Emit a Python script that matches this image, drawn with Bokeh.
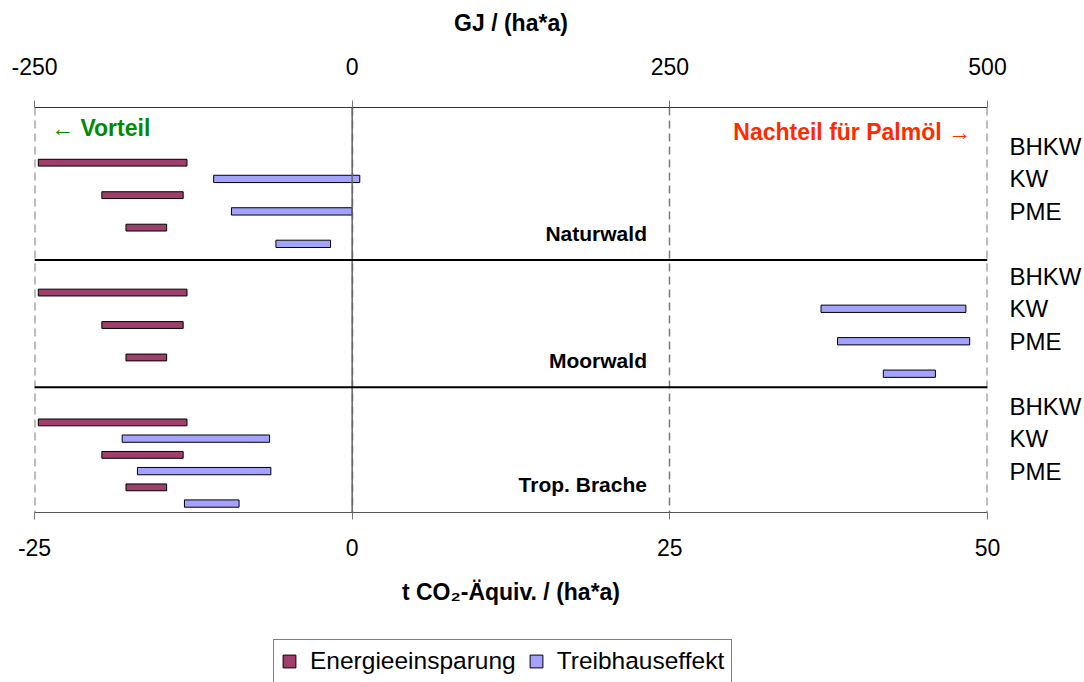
from bokeh.plotting import figure
from bokeh.models import (Range1d, LinearAxis, FixedTicker, Span, Legend,
                          LegendItem, ColumnDataSource, CustomJSTickFormatter)
from bokeh.layouts import column
from bokeh.core.properties import value
from bokeh.embed import file_html
from bokeh.resources import INLINE

# ---------------- data ----------------
panels = ["Naturwald", "Moorwald", "Trop. Brache"]
techs = ["BHKW", "KW", "PME"]

# Energieeinsparung (t CO2-Äquiv./(ha*a)) : von / bis, per panel, per tech
energie_von = [[-24.7, -19.7, -17.8],
               [-24.7, -19.7, -17.8],
               [-24.7, -19.7, -17.8]]
energie_bis = [[-13.0, -13.3, -14.6],
               [-13.0, -13.3, -14.6],
               [-13.0, -13.3, -14.6]]

# Treibhauseffekt
treib_von = [[-10.9, -9.5, -6.0],
             [36.9, 38.2, 41.8],
             [-18.1, -16.9, -13.2]]
treib_bis = [[0.6, 0.0, -1.7],
             [48.3, 48.6, 45.9],
             [-6.5, -6.4, -8.9]]

x_ticks = [-25, 0, 25, 50]
gj_ticks = [-250, 0, 250, 500]

FONT = "Liberation Sans"
C_EN = "#9E3F6C"
C_TR = "#A3A3FF"

# ---------------- layout of rows ----------------
SLOTS = 8
NAME_OFFSET = [4.35, 4.2, 3.8]
SEP_OFFSET = [0, -2.0, -2.17]
e_y, e_l, e_r, t_y, t_l, t_r = [], [], [], [], [], []
lab_pos, lab_txt = [], []
for k in range(len(panels)):
    for i in range(len(techs)):
        base = SLOTS * k + 2 * i
        e_y.append(base); e_l.append(energie_von[k][i]); e_r.append(energie_bis[k][i])
        t_y.append(base + 1); t_l.append(treib_von[k][i]); t_r.append(treib_bis[k][i])
        lab_pos.append(base - 1); lab_txt.append(techs[i])

p = figure(width=1084, height=638,
           x_range=Range1d(-25, 50), y_range=Range1d(21.55, -3.4),
           y_axis_location=None, toolbar_location=None, output_backend="svg",
           min_border_left=34, min_border_right=96, min_border_top=107,
           min_border_bottom=126)
p.outline_line_color = None
p.ygrid.visible = False
p.xgrid.ticker = FixedTicker(ticks=x_ticks)
p.xgrid.grid_line_color = "#7a7a7a"
p.xgrid.grid_line_dash = "8 5"
p.xgrid.grid_line_width = 1.5

for xe in (x_ticks[0], x_ticks[-1]):
    p.add_layout(Span(location=xe, dimension="height", line_color="#7a7a7a",
                      line_width=2, line_dash="8 5"))
p.add_layout(Span(location=0, dimension="height", line_color="#666666", line_width=1.5))
for k in range(1, len(panels)):
    p.add_layout(Span(location=SLOTS * k + SEP_OFFSET[k], dimension="width",
                      line_color="black", line_width=2))

src_e = ColumnDataSource(dict(y=e_y, left=e_l, right=e_r))
src_t = ColumnDataSource(dict(y=t_y, left=t_l, right=t_r))
p.hbar(y="y", left="left", right="right", height=0.42, source=src_e,
       fill_color=C_EN, line_color="black", line_width=1)
p.hbar(y="y", left="left", right="right", height=0.45, source=src_t,
       fill_color=C_TR, line_color="black", line_width=1)

# bottom axis
ax = p.xaxis[0]
ax.ticker = FixedTicker(ticks=x_ticks)
ax.formatter = CustomJSTickFormatter(code="return String(tick);")
ax.axis_label = "t CO\u2082-Äquiv. / (ha*a)"
ax.axis_line_color = "#555555"
ax.major_tick_line_color = "#777777"
ax.major_tick_out = 7
ax.major_tick_in = 0
ax.minor_tick_line_color = None
ax.major_label_text_font = FONT
ax.major_label_text_font_size = "23px"
ax.major_label_text_color = "black"
ax.major_label_standoff = 19
ax.axis_label_text_font = FONT
ax.axis_label_text_font_size = "23px"
ax.axis_label_text_font_style = "bold"
ax.axis_label_text_color = "black"
ax.axis_label_standoff = 20

# top axis
p.extra_x_ranges = {"gj": Range1d(-250, 500)}
tax = LinearAxis(x_range_name="gj", ticker=FixedTicker(ticks=gj_ticks),
                 formatter=CustomJSTickFormatter(code="return String(tick);"),
                 axis_label="GJ / (ha*a)")
tax.axis_line_color = "#333333"
tax.major_tick_line_color = "#777777"
tax.major_tick_out = 7
tax.major_tick_in = 0
tax.minor_tick_line_color = None
tax.major_label_text_font = FONT
tax.major_label_text_font_size = "23px"
tax.major_label_text_color = "black"
tax.major_label_standoff = 26
tax.axis_label_text_font = FONT
tax.axis_label_text_font_size = "23px"
tax.axis_label_text_font_style = "bold"
tax.axis_label_text_color = "black"
tax.axis_label_standoff = 19
p.add_layout(tax, "above")

# right labels
rax = LinearAxis(ticker=FixedTicker(ticks=lab_pos),
                 major_label_overrides={pos: t for pos, t in zip(lab_pos, lab_txt)})
rax.axis_line_color = None
rax.major_tick_line_color = None
rax.major_tick_out = 0
rax.major_tick_in = 0
rax.minor_tick_line_color = None
rax.major_label_standoff = 22
rax.major_label_text_font = FONT
rax.major_label_text_font_size = "24px"
rax.major_label_text_color = "black"
p.add_layout(rax, "right")

# panel names
p.text(x=[23.2] * len(panels), y=[SLOTS * k + NAME_OFFSET[k] for k in range(len(panels))],
       text=panels, text_align="right", text_baseline="middle",
       text_font=value(FONT), text_font_size="21px", text_font_style="bold",
       text_color="black")

# annotations
p.text(x=[-23.7], y=[-2.15], text=["\u2190 Vorteil"], text_align="left",
       text_baseline="middle", text_font=value(FONT), text_font_size="23px",
       text_font_style="bold", text_color="#008A00")
p.text(x=[48.7], y=[-1.9], text=["Nachteil für Palmöl \u2192"], text_align="right",
       text_baseline="middle", text_font=value(FONT), text_font_size="23px",
       text_font_style="bold", text_color="#FF2A00")

# ---------------- legend strip ----------------
lf = figure(width=1084, height=44, x_range=Range1d(1000, 1001), y_range=Range1d(1000, 1001),
            x_axis_location=None, y_axis_location=None, toolbar_location=None,
            output_backend="svg", min_border_left=34, min_border_right=96,
            min_border_top=0, min_border_bottom=0)
lf.outline_line_color = None
lf.grid.visible = False
# same series drawn into the legend strip (outside its visible range) to feed the legend
le = lf.hbar(y="y", left="left", right="right", height=0.42, source=src_e,
             fill_color=C_EN, line_color="black", line_width=1)
lt = lf.hbar(y="y", left="left", right="right", height=0.45, source=src_t,
             fill_color=C_TR, line_color="black", line_width=1)
legend = Legend(items=[LegendItem(label="Energieeinsparung", renderers=[le]),
                       LegendItem(label="Treibhauseffekt", renderers=[lt])],
                orientation="horizontal", location=(239, -1),
                label_text_font=FONT, label_text_font_size="24.5px",
                label_text_color="black",
                glyph_width=16, glyph_height=16, label_standoff=13, spacing=12,
                padding=7, margin=0, border_line_color="black", border_line_width=1,
                background_fill_color="white", background_fill_alpha=1.0)
lf.add_layout(legend)

layout = column(p, lf, spacing=0)
open("out.html", "w").write(file_html(layout, INLINE))
